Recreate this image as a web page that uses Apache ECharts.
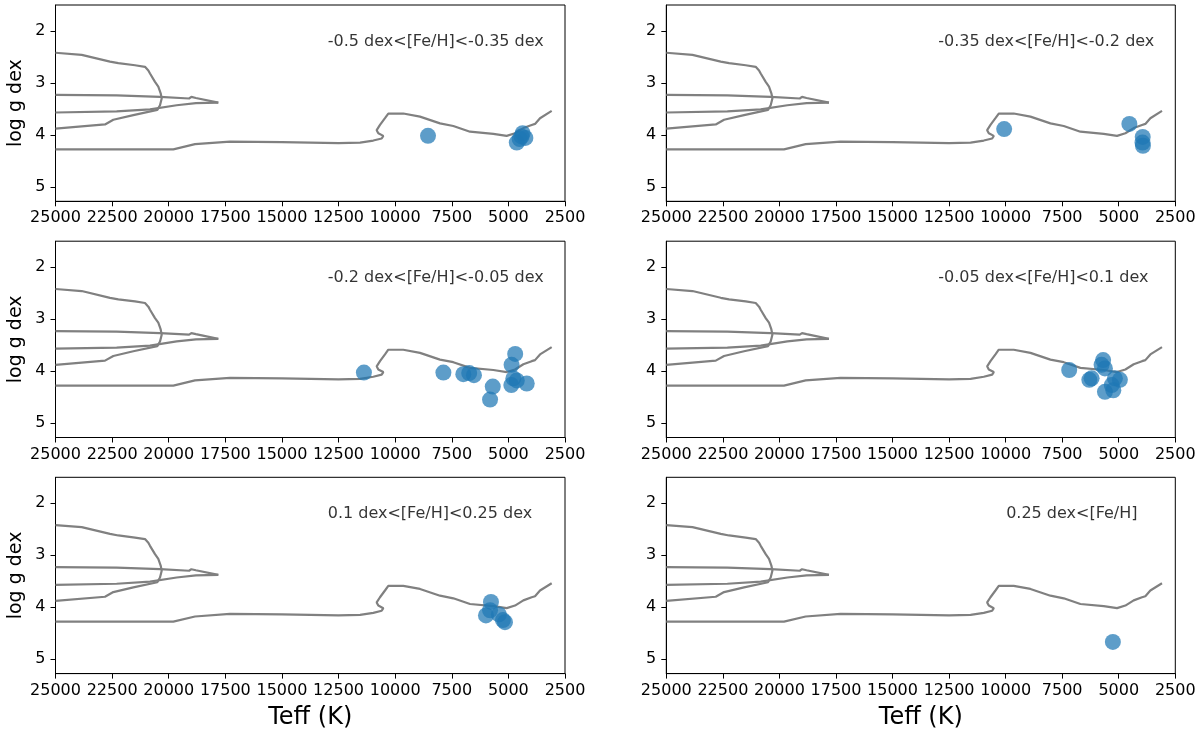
<!DOCTYPE html>
<html>
<head>
<meta charset="utf-8">
<script src="https://cdn.jsdelivr.net/npm/echarts@6/dist/echarts.min.js"></script>
<style>
  html, body { margin: 0; padding: 0; background: #fff; }
  #chart { width: 1200px; height: 734px; }
</style>
</head>
<body>
<div id="chart"></div>
<script>
// ---- tick labels ----
const teffTicks = [25000, 22500, 20000, 17500, 15000, 12500, 10000, 7500, 5000, 2500];
const loggTicks = [2, 3, 4, 5];

// ---- isochrone tracks [Teff, log g] ----
const trackLoop = [
  [25000, 2.42], [23843, 2.46], [22593, 2.59], [22226, 2.62], [21489, 2.66], [21048, 2.69],
  [20900, 2.76], [20827, 2.82], [20606, 2.98], [20460, 3.07], [20355, 3.20], [20310, 3.30],
  [20385, 3.43], [20504, 3.52], [21563, 3.62], [22447, 3.71], [22814, 3.80], [25000, 3.88]
];
const trackUpper = [
  [25000, 3.23], [22300, 3.24], [20385, 3.27], [19100, 3.30], [19000, 3.27], [18800, 3.29],
  [18765, 3.32], [17810, 3.38]
];
const trackLower = [
  [25000, 3.57], [22300, 3.55], [20827, 3.51], [19650, 3.43], [18800, 3.39], [17810, 3.38]
];
const trackMain = [
  [25000, 4.28], [19797, 4.28], [18840, 4.18], [17295, 4.13], [15000, 4.14], [12500, 4.16],
  [11550, 4.15], [10966, 4.11], [10595, 4.07], [10523, 4.02], [10744, 3.97], [10817, 3.91],
  [10670, 3.81], [10450, 3.68], [10303, 3.59], [9641, 3.59], [8904, 3.65], [8020, 3.78],
  [7432, 3.83], [6695, 3.94], [5664, 3.98], [5076, 4.02], [4707, 3.97], [4339, 3.87],
  [3971, 3.81], [3824, 3.79], [3603, 3.68], [3088, 3.54]
];

// ---- stars per metallicity bin [Teff, log g] ----
const starsBin1 = [[8550, 4.02], [4370, 3.97], [4420, 4.03], [4250, 4.06], [4630, 4.15], [4500, 4.08]];
const starsBin2 = [[10065, 3.89], [4530, 3.79], [3940, 4.04], [3950, 4.15], [3930, 4.21]];
const starsBin3 = [[11380, 4.03], [7870, 4.03], [6990, 4.06], [6730, 4.04], [6520, 4.08], [5690, 4.30],
  [5810, 4.55], [4700, 3.67], [4860, 3.88], [4780, 4.14], [4870, 4.27], [4190, 4.24], [4630, 4.18]];
const starsBin4 = [[7190, 3.98], [5690, 3.79], [5760, 3.88], [5610, 3.95], [6300, 4.17], [6200, 4.14],
  [5170, 4.14], [4950, 4.17], [5310, 4.27], [5610, 4.40], [5240, 4.37]];
const starsBin5 = [[5770, 3.90], [5810, 4.06], [5990, 4.16], [5420, 4.14], [5240, 4.25], [5150, 4.29]];
const starsBin6 = [[5260, 4.67]];

const binLabels = [
  '-0.5 dex<[Fe/H]<-0.35 dex',
  '-0.35 dex<[Fe/H]<-0.2 dex',
  '-0.2 dex<[Fe/H]<-0.05 dex',
  '-0.05 dex<[Fe/H]<0.1 dex',
  '0.1 dex<[Fe/H]<0.25 dex',
  '0.25 dex<[Fe/H]'
];

// ---- build option ----
const allStars = [starsBin1, starsBin2, starsBin3, starsBin4, starsBin5, starsBin6];
const tracks = [trackLoop, trackUpper, trackLower, trackMain];
const FONT = 'DejaVu Sans';
const colLeft = [55.5, 666.3];
const colWidth = [509.5, 509];
const rowTop = [5, 241.2, 477.3];
const panelH = 196.3;

const grids = [], xAxes = [], yAxes = [], series = [];
for (let i = 0; i < 6; i++) {
  const col = i % 2, row = Math.floor(i / 2);
  grids.push({
    left: colLeft[col], top: rowTop[row], width: colWidth[col], height: panelH,
    show: true, borderColor: '#000', borderWidth: 1, backgroundColor: '#fff'
  });
  xAxes.push({
    type: 'value', gridIndex: i, inverse: true, min: 2500, max: 25000, interval: 2500,
    name: row === 2 ? 'Teff (K)' : '', nameLocation: 'middle', nameGap: 32,
    nameTextStyle: { fontFamily: FONT, fontSize: 24, color: '#000' },
    axisLine: { show: true, onZero: false, lineStyle: { color: '#000', width: 1 } },
    axisTick: { show: true, inside: false, length: 5, lineStyle: { color: '#000', width: 1 } },
    axisLabel: {
      show: true, margin: 9, fontFamily: FONT, fontSize: 16, color: '#000',
      showMinLabel: true, showMaxLabel: true, hideOverlap: false, interval: 0,
      customValues: teffTicks,
      formatter: function (v) { return String(v); }
    },
    splitLine: { show: false }
  });
  yAxes.push({
    type: 'value', gridIndex: i, inverse: true, min: 1.5, max: 5.28,
    name: col === 0 ? 'log g dex' : '', nameLocation: 'middle', nameGap: 30,
    nameTextStyle: { fontFamily: FONT, fontSize: 19, color: '#000' },
    axisLine: { show: true, onZero: false, lineStyle: { color: '#000', width: 1 } },
    axisTick: { show: true, inside: false, length: 5, lineStyle: { color: '#000', width: 1 }, customValues: loggTicks },
    axisLabel: {
      show: true, margin: 10, fontFamily: FONT, fontSize: 16, color: '#000', customValues: loggTicks,
      formatter: function (v) { return String(v); }
    },
    splitLine: { show: false }
  });
  tracks.forEach(function (tr) {
    series.push({
      type: 'line', xAxisIndex: i, yAxisIndex: i, data: tr,
      showSymbol: false, symbol: 'none', smooth: false, silent: true, z: 2,
      lineStyle: { color: '#808080', width: 2.2 }
    });
  });
  series.push({
    type: 'scatter', xAxisIndex: i, yAxisIndex: i, data: allStars[i],
    symbol: 'circle', symbolSize: 16, z: 3,
    itemStyle: { color: '#1f77b4', opacity: 0.72 }
  });
  series.push({
    type: 'scatter', xAxisIndex: i, yAxisIndex: i, z: 4, silent: true,
    data: [[i === 5 ? 10000 : 13000, 2.2]],
    symbolSize: 1, itemStyle: { color: 'rgba(0,0,0,0)' },
    label: {
      show: true, position: 'right', distance: 0, align: 'left', verticalAlign: 'middle',
      formatter: binLabels[i], fontFamily: FONT, fontSize: 16, color: '#000',
      textBorderWidth: 0
    }
  });
}

const chart = echarts.init(document.getElementById('chart'), null, { renderer: 'canvas' });
chart.setOption({
  animation: false,
  backgroundColor: '#fff',
  grid: grids, xAxis: xAxes, yAxis: yAxes, series: series
});
</script>
</body>
</html>
